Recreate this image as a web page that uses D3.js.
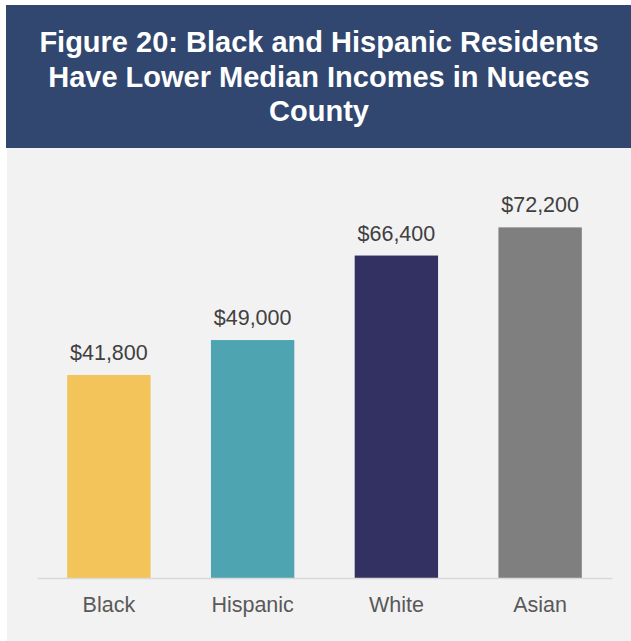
<!DOCTYPE html>
<html>
<head>
<script src="https://cdn.jsdelivr.net/npm/d3@7"></script>
<style>
  body { margin: 0; background: #fff; }
  svg { display: block; font-family: "Liberation Sans", Arial, sans-serif; }
</style>
</head>
<body>
<svg id="chart"></svg>
<script>
var categories = ["Black", "Hispanic", "White", "Asian"];
var incomes = [41800, 49000, 66400, 72200];
var barColors = ["#f2c45a", "#4ea5b1", "#333162", "#7f7f80"];
var titleLines = ["Figure 20: Black and Hispanic Residents", "Have Lower Median Incomes in Nueces", "County"];

var width = 631, height = 641;
var svg = d3.select("#chart").attr("width", width).attr("height", height);

// panel + header
svg.append("rect").attr("x", 7).attr("y", 148).attr("width", width - 7).attr("height", height - 148).attr("fill", "#f2f2f2");
svg.append("rect").attr("x", 6).attr("y", 5).attr("width", width - 6).attr("height", 143).attr("fill", "#31476f");

svg.selectAll("text.title")
    .data(titleLines)
    .enter().append("text")
    .attr("class", "title")
    .attr("x", 319)
    .attr("y", function (d, i) { return 52 + i * 34.5; })
    .attr("text-anchor", "middle")
    .attr("fill", "#fff")
    .attr("font-size", "29px")
    .attr("font-weight", "bold")
    .text(function (d) { return d; });

var x = d3.scaleBand().domain(categories).range([37, 612]).paddingInner(0.42).paddingOuter(0.21);
var y = d3.scaleLinear().domain([0, 80000]).range([578, 189.5]);

var g = svg.append("g");

g.selectAll("rect.bar")
    .data(categories)
    .enter().append("rect")
    .attr("class", "bar")
    .attr("x", function (d) { return x(d); })
    .attr("y", function (d, i) { return y(incomes[i]); })
    .attr("width", x.bandwidth())
    .attr("height", function (d, i) { return y(0) - y(incomes[i]); })
    .attr("fill", function (d, i) { return barColors[i]; });

g.selectAll("text.val")
    .data(categories)
    .enter().append("text")
    .attr("class", "val")
    .attr("x", function (d) { return x(d) + x.bandwidth() / 2; })
    .attr("y", function (d, i) { return y(incomes[i]) - 15; })
    .attr("text-anchor", "middle")
    .attr("fill", "#404040")
    .attr("font-size", "21.5px")
    .text(function (d, i) { return "$" + d3.format(",")(incomes[i]); });

var axis = d3.axisBottom(x).tickSize(0).tickPadding(19);
var ax = svg.append("g").attr("transform", "translate(0," + y(0) + ")").call(axis);
ax.select(".domain").attr("stroke", "#d9d9d9").attr("stroke-width", 1.5);
ax.selectAll(".tick text")
    .attr("fill", "#595959")
    .attr("font-size", "21.5px")
    .attr("font-family", "\"Liberation Sans\", Arial, sans-serif");
</script>
</body>
</html>
